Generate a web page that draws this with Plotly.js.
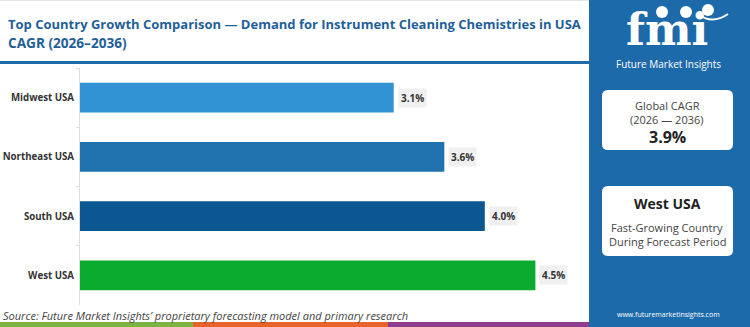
<!DOCTYPE html>
<html>
<head>
<meta charset="utf-8">
<script src="https://cdn.plot.ly/plotly-3.0.1.min.js"></script>
<style>html,body{margin:0;padding:0;background:#fff;}#chart{width:750px;height:327px;}</style>
</head>
<body>
<div id="chart"></div>
<script>
const regions = ["Midwest USA", "Northeast USA", "South USA", "West USA"];
const cagr = [3.1, 3.6, 4.0, 4.5];
const barColors = ["#3193d4", "#1f72ae", "#0a5791", "#0aab2e"];
const valueLabels = ["3.1%", "3.6%", "4.0%", "4.5%"];
const titleLines = ["Top Country Growth Comparison — Demand for Instrument Cleaning Chemistries in USA", "CAGR (2026–2036)"];
const globalCagr = "3.9%";
const leader = "West USA";

const W = 750, H = 327;
const L = 80, R = 164, T = 68, B = 22;
const PW = W - L - R, PH = H - T - B;
const px = v => (v - L) / PW;
const py = v => 1 - (v - T) / PH;
const panel = "#1d6aab";
const SANS = "'Open Sans', sans-serif";

const trace = {
  type: "bar", orientation: "h",
  x: cagr, y: regions,
  marker: {color: barColors},
  width: 0.5,
  hoverinfo: "none"
};

const annotations = [];
regions.forEach((r, i) => {
  annotations.push({
    x: cagr[i], y: r, xref: "x", yref: "y", text: valueLabels[i],
    showarrow: false, xanchor: "left", yanchor: "middle", xshift: 4,
    bgcolor: "#f0f0f0", borderpad: 2,
    font: {family: SANS, size: 10, color: "#333", weight: 700}
  });
});
function ann(x, y, text, font, extra) {
  annotations.push(Object.assign({x: px(x), y: py(y), xref: "paper", yref: "paper", text: text,
    showarrow: false, xanchor: "center", yanchor: "middle", font: font}, extra || {}));
}
ann(6, 24, titleLines[0], {family: SANS, size: 13, color: "#1f5f99", weight: 700}, {xanchor: "left"});
ann(6, 43, titleLines[1], {family: SANS, size: 13.6, color: "#1f5f99", weight: 700}, {xanchor: "left"});
// logo
ann(667, 29, "fmi", {family: "'DejaVu Serif', serif", size: 44, color: "#ffffff", weight: 700});
ann(668, 64, "Future Market Insights", {family: SANS, size: 10, color: "#ffffff"});
// boxes
ann(667, 105, "Global CAGR", {family: SANS, size: 11, color: "#444"});
ann(667, 119, "(2026 — 2036)", {family: SANS, size: 11, color: "#444"});
ann(667, 137, globalCagr, {family: SANS, size: 16, color: "#222", weight: 700});
ann(667, 203, leader, {family: SANS, size: 14, color: "#222", weight: 700});
ann(667, 227, "Fast-Growing Country", {family: SANS, size: 11, color: "#444"});
ann(667, 241, "During Forecast Period", {family: SANS, size: 11, color: "#444"});
ann(668, 314, "www.futuremarketinsights.com", {family: SANS, size: 7, color: "#ffffff"});
ann(1, 315, "Source: Future Market Insights’ proprietary forecasting model and primary research", {family: SANS, size: 11, color: "#444", style: "italic"}, {xanchor: "left"});

function rect(x0, y0, x1, y1, color, extra) {
  return Object.assign({type: "rect", xref: "paper", yref: "paper", x0: px(x0), x1: px(x1), y0: py(y1), y1: py(y0),
    fillcolor: color, line: {width: 0}, layer: "below"}, extra || {});
}
function rrect(x0, y0, x1, y1, r, color) {
  const a = px(x0), b = px(x1), c = py(y0), d = py(y1);
  const rx = r / PW, ry = r / PH;
  const path = `M ${a+rx},${c} L ${b-rx},${c} Q ${b},${c} ${b},${c-ry} L ${b},${d+ry} Q ${b},${d} ${b-rx},${d} L ${a+rx},${d} Q ${a},${d} ${a},${d+ry} L ${a},${c-ry} Q ${a},${c} ${a+rx},${c} Z`;
  return {type: "path", xref: "paper", yref: "paper", path: path, fillcolor: color, line: {width: 0}, layer: "below"};
}
function circ(cx, cy, r, color) {
  return {type: "circle", xref: "paper", yref: "paper", x0: px(cx - r), x1: px(cx + r), y0: py(cy + r), y1: py(cy - r),
    fillcolor: color, line: {width: 0}, layer: "above"};
}
const shapes = [
  rect(589, 0, 750, 327, panel),
  rect(0, 0, 589, 1, "#e6e6e6"),
  rect(0, 61, 589, 64, "#1f6aa8"),
  rect(0, 322, 193, 327, "#7cb342"),
  rect(193, 322, 388, 327, "#e8632a"),
  rect(388, 322, 589, 327, "#8e3c8e"),
  rrect(602, 90, 733, 150, 6, "#ffffff"),
  rrect(602, 186, 733, 256, 6, "#ffffff"),
  circ(662, 12, 6, "#ffffff"),
  circ(686, 12, 6, "#ffffff"),
  circ(708, 10, 6, "#ffffff"),
  {type: "path", xref: "paper", yref: "paper",
   path: `M ${px(698)},${py(14)} Q ${px(712)},${py(25)} ${px(728)},${py(14)}`,
   line: {color: "#ffffff", width: 2}, layer: "above"},
];

const layout = {
  width: W, height: H,
  margin: {l: L, r: R, t: T, b: B},
  paper_bgcolor: "#ffffff", plot_bgcolor: "#ffffff",
  showlegend: false,
  xaxis: {range: [0, 5], visible: false, fixedrange: true},
  yaxis: {type: "category", autorange: "reversed", showline: true, linecolor: "#dddddd", linewidth: 1,
    ticks: "outside", ticklen: 3, tickcolor: "#dddddd", tickson: "boundaries", showgrid: false,
    tickfont: {family: SANS, size: 9.7, color: "#333", weight: 700}, ticklabelstandoff: 3},
  annotations: annotations,
  shapes: shapes
};
Plotly.newPlot("chart", [trace], layout, {displayModeBar: false, staticPlot: true});
</script>
</body>
</html>
